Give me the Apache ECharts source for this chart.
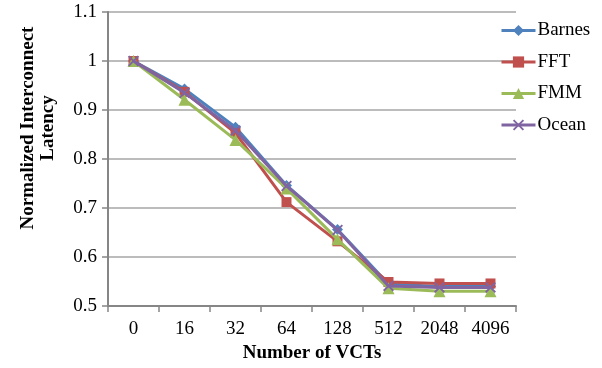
<!DOCTYPE html>
<html><head><meta charset="utf-8">
<script src="https://cdn.jsdelivr.net/npm/echarts@6/dist/echarts.min.js"></script>
<style>html,body{margin:0;padding:0;background:#fff}#c{width:602px;height:368px}</style>
</head><body><div id="c"></div>
<script>
const categories = ['0','16','32','64','128','512','2048','4096'];
const barnes = [1.0, 0.943, 0.865, 0.746, 0.656, 0.545, 0.540, 0.540];
const fft    = [1.0, 0.937, 0.853, 0.712, 0.632, 0.549, 0.546, 0.546];
const fmm    = [1.0, 0.921, 0.839, 0.740, 0.636, 0.536, 0.530, 0.530];
const ocean  = [1.0, 0.935, 0.858, 0.745, 0.655, 0.541, 0.538, 0.538];
const seriesNames = ['Barnes','FFT','FMM','Ocean'];
const yTicks = {min:0.5, max:1.1, interval:0.1};

const font = "'Liberation Serif', 'DejaVu Serif', serif";
const xPath = 'path://M0,1.2 L1.2,0 L5,3.8 L8.8,0 L10,1.2 L6.2,5 L10,8.8 L8.8,10 L5,6.2 L1.2,10 L0,8.8 L3.8,5 Z';
const colors = ['#4F81BD','#C0504D','#9BBB59','#8064A2'];
const symbols = ['diamond','rect',"triangle",xPath];
const sizes = [11,10,12,11];
const dataArr = [barnes, fft, fmm, ocean];

const chart = echarts.init(document.getElementById('c'), null, {renderer:'canvas'});
chart.setOption({
  animation:false,
  backgroundColor:'#fff',
  color: colors,
  grid:{left:108, right:86, top:12, bottom:61, containLabel:false},
  legend:{
    orient:'vertical', left:495, top:16, itemWidth:34, itemHeight:14, itemGap:12.5,
    lineStyle:{width:3},
    textStyle:{fontFamily:font, fontSize:19, color:'#000', padding:[0,0,0,-3]},
    data: seriesNames
  },
  xAxis:{
    type:'category', data:categories, boundaryGap:true,
    name:'Number of VCTs', nameLocation:'middle', nameGap:38,
    nameTextStyle:{fontFamily:font, fontSize:19, fontWeight:'bold', color:'#000'},
    axisLine:{lineStyle:{color:'#868686', width:2}},
    axisTick:{show:true, length:6, lineStyle:{color:'#868686', width:1.5}},
    axisLabel:{fontFamily:font, fontSize:19, color:'#000', margin:14},
    splitLine:{show:false}
  },
  yAxis:{
    type:'value', min:yTicks.min, max:yTicks.max, interval:yTicks.interval,
    axisLine:{show:true, lineStyle:{color:'#868686', width:2}},
    axisTick:{show:true, length:6, lineStyle:{color:'#868686', width:1.5}},
    axisLabel:{fontFamily:font, fontSize:19, color:'#000', margin:11,
      formatter: v => (Math.abs(v-1)<1e-9 ? '1' : v.toFixed(1))},
    splitLine:{lineStyle:{color:'#A6A6A6', width:1.5}}
  },
  graphic:[{
    type:'text', x:38, y:128, rotation:Math.PI/2,
    style:{text:'Normalized Interconnect\nLatency', fontFamily:font, fontSize:19, fontWeight:'bold',
      fill:'#000', align:'center', verticalAlign:'middle', lineHeight:20}
  }],
  series: seriesNames.map((n,i)=>({
    name:n, type:'line', data:dataArr[i],
    symbol:symbols[i], symbolSize:sizes[i], showAllSymbol:true,
    lineStyle:{width:3, color:colors[i]},
    itemStyle:{color:colors[i]},
    z: 2+i
  }))
});
</script></body></html>
